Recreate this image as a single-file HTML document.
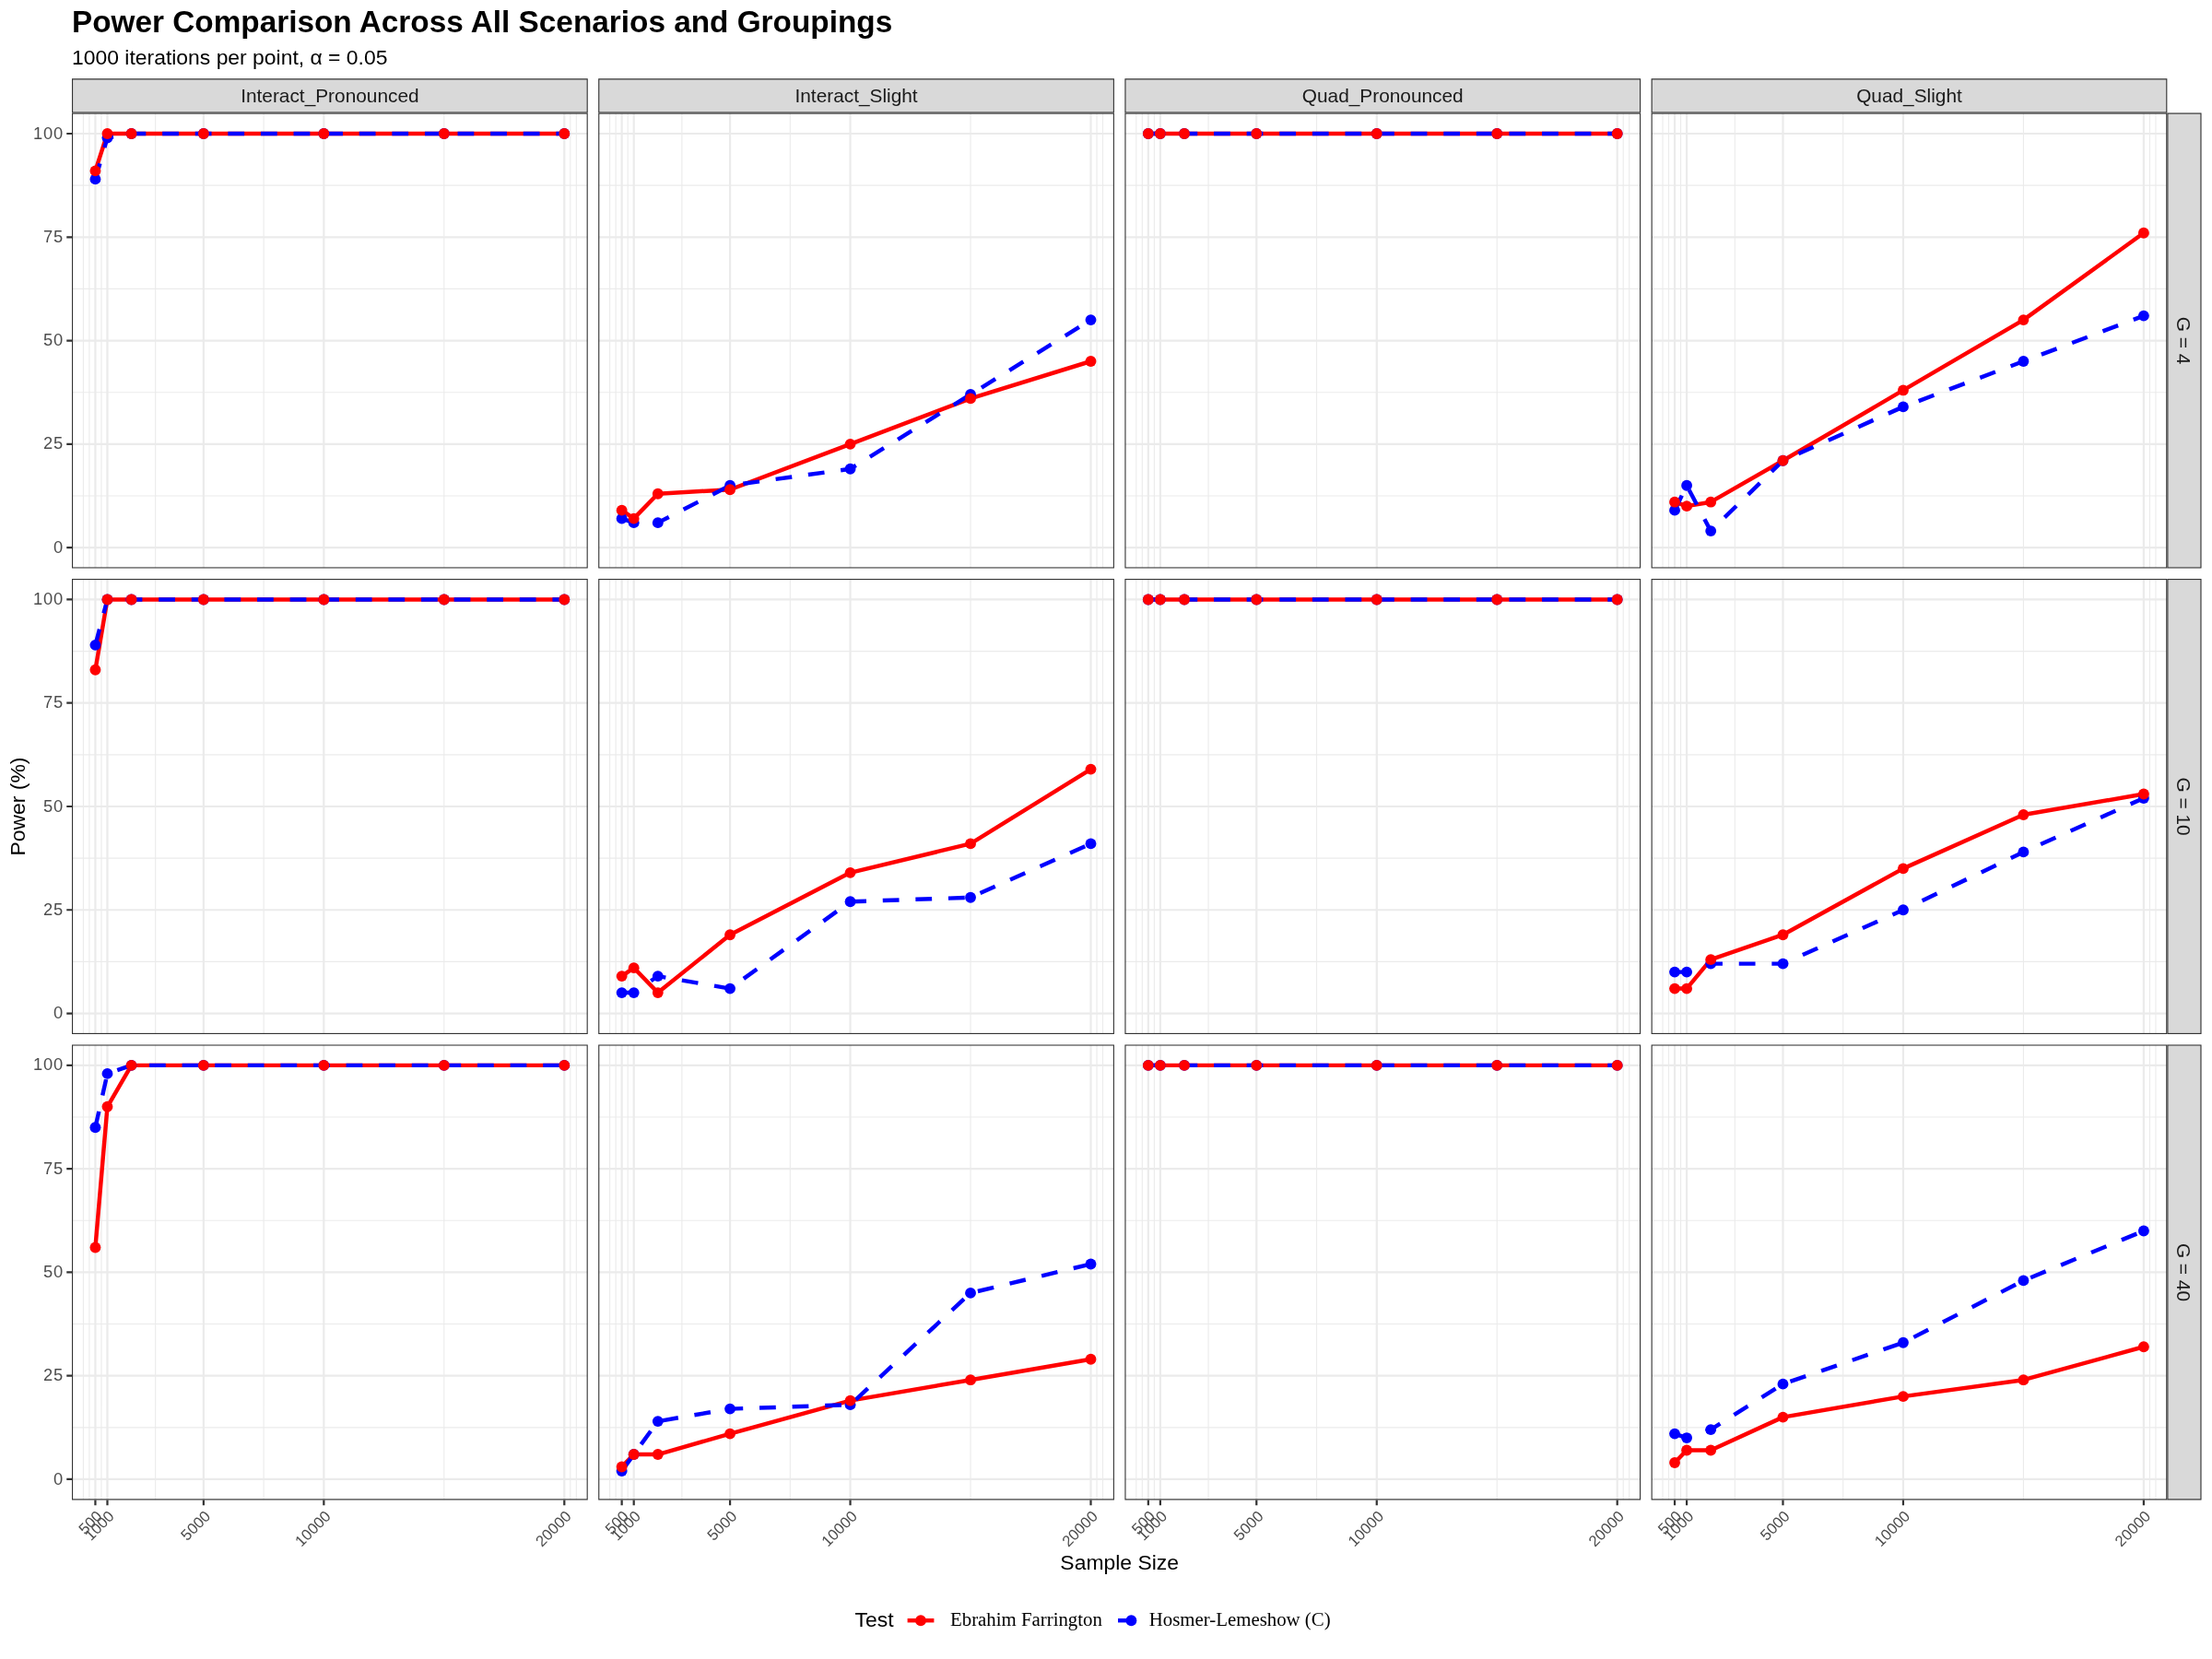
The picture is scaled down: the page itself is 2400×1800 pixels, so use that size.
<!DOCTYPE html>
<html><head><meta charset="utf-8"><title>Power Comparison</title>
<style>html,body{margin:0;padding:0;background:#fff;}svg{display:block;will-change:transform;}text{font-family:"Liberation Sans",sans-serif;}.ser{font-family:"Liberation Serif",serif;}</style>
</head><body>
<svg width="2400" height="1800" viewBox="0 0 2400 1800">
<rect x="0" y="0" width="2400" height="1800" fill="#ffffff"/>
<defs>
<clipPath id="cp00"><rect x="78.00" y="122.56" width="559.74" height="493.98"/></clipPath>
<clipPath id="cp01"><rect x="649.20" y="122.56" width="559.74" height="493.98"/></clipPath>
<clipPath id="cp02"><rect x="1220.40" y="122.56" width="559.74" height="493.98"/></clipPath>
<clipPath id="cp03"><rect x="1791.60" y="122.56" width="559.74" height="493.98"/></clipPath>
<clipPath id="cp10"><rect x="78.00" y="628.00" width="559.74" height="493.98"/></clipPath>
<clipPath id="cp11"><rect x="649.20" y="628.00" width="559.74" height="493.98"/></clipPath>
<clipPath id="cp12"><rect x="1220.40" y="628.00" width="559.74" height="493.98"/></clipPath>
<clipPath id="cp13"><rect x="1791.60" y="628.00" width="559.74" height="493.98"/></clipPath>
<clipPath id="cp20"><rect x="78.00" y="1133.44" width="559.74" height="493.98"/></clipPath>
<clipPath id="cp21"><rect x="649.20" y="1133.44" width="559.74" height="493.98"/></clipPath>
<clipPath id="cp22"><rect x="1220.40" y="1133.44" width="559.74" height="493.98"/></clipPath>
<clipPath id="cp23"><rect x="1791.60" y="1133.44" width="559.74" height="493.98"/></clipPath>
<clipPath id="cs0"><rect x="78.00" y="85.37" width="559.74" height="37.19"/></clipPath>
<clipPath id="cs1"><rect x="649.20" y="85.37" width="559.74" height="37.19"/></clipPath>
<clipPath id="cs2"><rect x="1220.40" y="85.37" width="559.74" height="37.19"/></clipPath>
<clipPath id="cs3"><rect x="1791.60" y="85.37" width="559.74" height="37.19"/></clipPath>
<clipPath id="cr0"><rect x="2351.34" y="122.56" width="37.19" height="493.98"/></clipPath>
<clipPath id="cr1"><rect x="2351.34" y="628.00" width="37.19" height="493.98"/></clipPath>
<clipPath id="cr2"><rect x="2351.34" y="1133.44" width="37.19" height="493.98"/></clipPath>
</defs>
<text x="78" y="34.7" font-size="33.33" font-weight="bold" fill="#000">Power Comparison Across All Scenarios and Groupings</text>
<text x="78" y="69.9" font-size="22.92" fill="#000">1000 iterations per point, α = 0.05</text>
<g clip-path="url(#cp00)">
<path d="M78.00 537.95H637.74M78.00 425.68H637.74M78.00 313.42H637.74M78.00 201.15H637.74M90.40 122.56V616.54M96.92 122.56V616.54M109.97 122.56V616.54M168.68 122.56V616.54M286.11 122.56V616.54M481.82 122.56V616.54M618.82 122.56V616.54M625.34 122.56V616.54" stroke="#EBEBEB" stroke-width="1.11" fill="none"/>
<path d="M78.00 594.09H637.74M78.00 481.82H637.74M78.00 369.55H637.74M78.00 257.28H637.74M78.00 145.01H637.74M103.44 122.56V616.54M116.49 122.56V616.54M220.87 122.56V616.54M351.35 122.56V616.54M612.30 122.56V616.54" stroke="#EBEBEB" stroke-width="2.22" fill="none"/>
<polyline points="103.44,185.43 116.49,145.01 142.59,145.01 220.87,145.01 351.35,145.01 481.82,145.01 612.30,145.01" fill="none" stroke="#FF0000" stroke-width="4.45" stroke-linejoin="round"/>
<polyline points="103.44,194.41 116.49,149.50 142.59,145.01 220.87,145.01 351.35,145.01 481.82,145.01 612.30,145.01" fill="none" stroke="#0000FF" stroke-width="4.45" stroke-linejoin="round" stroke-dasharray="17.8 17.8"/>
<circle cx="103.44" cy="194.41" r="5.93" fill="#0000FF"/>
<circle cx="116.49" cy="149.50" r="5.93" fill="#0000FF"/>
<circle cx="142.59" cy="145.01" r="5.93" fill="#0000FF"/>
<circle cx="220.87" cy="145.01" r="5.93" fill="#0000FF"/>
<circle cx="351.35" cy="145.01" r="5.93" fill="#0000FF"/>
<circle cx="481.82" cy="145.01" r="5.93" fill="#0000FF"/>
<circle cx="612.30" cy="145.01" r="5.93" fill="#0000FF"/>
<circle cx="103.44" cy="185.43" r="5.93" fill="#FF0000"/>
<circle cx="116.49" cy="145.01" r="5.93" fill="#FF0000"/>
<circle cx="142.59" cy="145.01" r="5.93" fill="#FF0000"/>
<circle cx="220.87" cy="145.01" r="5.93" fill="#FF0000"/>
<circle cx="351.35" cy="145.01" r="5.93" fill="#FF0000"/>
<circle cx="481.82" cy="145.01" r="5.93" fill="#FF0000"/>
<circle cx="612.30" cy="145.01" r="5.93" fill="#FF0000"/>
<rect x="78.00" y="122.56" width="559.74" height="493.98" fill="none" stroke="#333333" stroke-width="2.22"/>
</g>
<g clip-path="url(#cp01)">
<path d="M649.20 537.95H1208.94M649.20 425.68H1208.94M649.20 313.42H1208.94M649.20 201.15H1208.94M661.60 122.56V616.54M668.12 122.56V616.54M681.17 122.56V616.54M739.88 122.56V616.54M857.31 122.56V616.54M1053.02 122.56V616.54M1190.02 122.56V616.54M1196.54 122.56V616.54" stroke="#EBEBEB" stroke-width="1.11" fill="none"/>
<path d="M649.20 594.09H1208.94M649.20 481.82H1208.94M649.20 369.55H1208.94M649.20 257.28H1208.94M649.20 145.01H1208.94M674.64 122.56V616.54M687.69 122.56V616.54M792.07 122.56V616.54M922.55 122.56V616.54M1183.50 122.56V616.54" stroke="#EBEBEB" stroke-width="2.22" fill="none"/>
<polyline points="674.64,553.67 687.69,562.65 713.79,535.71 792.07,531.22 922.55,481.82 1053.02,432.42 1183.50,392.00" fill="none" stroke="#FF0000" stroke-width="4.45" stroke-linejoin="round"/>
<polyline points="674.64,562.65 687.69,567.14 713.79,567.14 792.07,526.73 922.55,508.76 1053.02,427.93 1183.50,347.10" fill="none" stroke="#0000FF" stroke-width="4.45" stroke-linejoin="round" stroke-dasharray="17.8 17.8"/>
<circle cx="674.64" cy="562.65" r="5.93" fill="#0000FF"/>
<circle cx="687.69" cy="567.14" r="5.93" fill="#0000FF"/>
<circle cx="713.79" cy="567.14" r="5.93" fill="#0000FF"/>
<circle cx="792.07" cy="526.73" r="5.93" fill="#0000FF"/>
<circle cx="922.55" cy="508.76" r="5.93" fill="#0000FF"/>
<circle cx="1053.02" cy="427.93" r="5.93" fill="#0000FF"/>
<circle cx="1183.50" cy="347.10" r="5.93" fill="#0000FF"/>
<circle cx="674.64" cy="553.67" r="5.93" fill="#FF0000"/>
<circle cx="687.69" cy="562.65" r="5.93" fill="#FF0000"/>
<circle cx="713.79" cy="535.71" r="5.93" fill="#FF0000"/>
<circle cx="792.07" cy="531.22" r="5.93" fill="#FF0000"/>
<circle cx="922.55" cy="481.82" r="5.93" fill="#FF0000"/>
<circle cx="1053.02" cy="432.42" r="5.93" fill="#FF0000"/>
<circle cx="1183.50" cy="392.00" r="5.93" fill="#FF0000"/>
<rect x="649.20" y="122.56" width="559.74" height="493.98" fill="none" stroke="#333333" stroke-width="2.22"/>
</g>
<g clip-path="url(#cp02)">
<path d="M1220.40 537.95H1780.14M1220.40 425.68H1780.14M1220.40 313.42H1780.14M1220.40 201.15H1780.14M1232.80 122.56V616.54M1239.32 122.56V616.54M1252.37 122.56V616.54M1311.08 122.56V616.54M1428.51 122.56V616.54M1624.22 122.56V616.54M1761.22 122.56V616.54M1767.74 122.56V616.54" stroke="#EBEBEB" stroke-width="1.11" fill="none"/>
<path d="M1220.40 594.09H1780.14M1220.40 481.82H1780.14M1220.40 369.55H1780.14M1220.40 257.28H1780.14M1220.40 145.01H1780.14M1245.84 122.56V616.54M1258.89 122.56V616.54M1363.27 122.56V616.54M1493.75 122.56V616.54M1754.70 122.56V616.54" stroke="#EBEBEB" stroke-width="2.22" fill="none"/>
<polyline points="1245.84,145.01 1258.89,145.01 1284.99,145.01 1363.27,145.01 1493.75,145.01 1624.22,145.01 1754.70,145.01" fill="none" stroke="#FF0000" stroke-width="4.45" stroke-linejoin="round"/>
<polyline points="1245.84,145.01 1258.89,145.01 1284.99,145.01 1363.27,145.01 1493.75,145.01 1624.22,145.01 1754.70,145.01" fill="none" stroke="#0000FF" stroke-width="4.45" stroke-linejoin="round" stroke-dasharray="17.8 17.8"/>
<circle cx="1245.84" cy="145.01" r="5.93" fill="#0000FF"/>
<circle cx="1258.89" cy="145.01" r="5.93" fill="#0000FF"/>
<circle cx="1284.99" cy="145.01" r="5.93" fill="#0000FF"/>
<circle cx="1363.27" cy="145.01" r="5.93" fill="#0000FF"/>
<circle cx="1493.75" cy="145.01" r="5.93" fill="#0000FF"/>
<circle cx="1624.22" cy="145.01" r="5.93" fill="#0000FF"/>
<circle cx="1754.70" cy="145.01" r="5.93" fill="#0000FF"/>
<circle cx="1245.84" cy="145.01" r="5.93" fill="#FF0000"/>
<circle cx="1258.89" cy="145.01" r="5.93" fill="#FF0000"/>
<circle cx="1284.99" cy="145.01" r="5.93" fill="#FF0000"/>
<circle cx="1363.27" cy="145.01" r="5.93" fill="#FF0000"/>
<circle cx="1493.75" cy="145.01" r="5.93" fill="#FF0000"/>
<circle cx="1624.22" cy="145.01" r="5.93" fill="#FF0000"/>
<circle cx="1754.70" cy="145.01" r="5.93" fill="#FF0000"/>
<rect x="1220.40" y="122.56" width="559.74" height="493.98" fill="none" stroke="#333333" stroke-width="2.22"/>
</g>
<g clip-path="url(#cp03)">
<path d="M1791.60 537.95H2351.34M1791.60 425.68H2351.34M1791.60 313.42H2351.34M1791.60 201.15H2351.34M1804.00 122.56V616.54M1810.52 122.56V616.54M1823.57 122.56V616.54M1882.28 122.56V616.54M1999.71 122.56V616.54M2195.42 122.56V616.54M2332.42 122.56V616.54M2338.94 122.56V616.54" stroke="#EBEBEB" stroke-width="1.11" fill="none"/>
<path d="M1791.60 594.09H2351.34M1791.60 481.82H2351.34M1791.60 369.55H2351.34M1791.60 257.28H2351.34M1791.60 145.01H2351.34M1817.04 122.56V616.54M1830.09 122.56V616.54M1934.47 122.56V616.54M2064.95 122.56V616.54M2325.90 122.56V616.54" stroke="#EBEBEB" stroke-width="2.22" fill="none"/>
<polyline points="1817.04,544.69 1830.09,549.18 1856.19,544.69 1934.47,499.78 2064.95,423.44 2195.42,347.10 2325.90,252.79" fill="none" stroke="#FF0000" stroke-width="4.45" stroke-linejoin="round"/>
<polyline points="1817.04,553.67 1830.09,526.73 1856.19,576.12 1934.47,499.78 2064.95,441.40 2195.42,392.00 2325.90,342.61" fill="none" stroke="#0000FF" stroke-width="4.45" stroke-linejoin="round" stroke-dasharray="17.8 17.8"/>
<circle cx="1817.04" cy="553.67" r="5.93" fill="#0000FF"/>
<circle cx="1830.09" cy="526.73" r="5.93" fill="#0000FF"/>
<circle cx="1856.19" cy="576.12" r="5.93" fill="#0000FF"/>
<circle cx="1934.47" cy="499.78" r="5.93" fill="#0000FF"/>
<circle cx="2064.95" cy="441.40" r="5.93" fill="#0000FF"/>
<circle cx="2195.42" cy="392.00" r="5.93" fill="#0000FF"/>
<circle cx="2325.90" cy="342.61" r="5.93" fill="#0000FF"/>
<circle cx="1817.04" cy="544.69" r="5.93" fill="#FF0000"/>
<circle cx="1830.09" cy="549.18" r="5.93" fill="#FF0000"/>
<circle cx="1856.19" cy="544.69" r="5.93" fill="#FF0000"/>
<circle cx="1934.47" cy="499.78" r="5.93" fill="#FF0000"/>
<circle cx="2064.95" cy="423.44" r="5.93" fill="#FF0000"/>
<circle cx="2195.42" cy="347.10" r="5.93" fill="#FF0000"/>
<circle cx="2325.90" cy="252.79" r="5.93" fill="#FF0000"/>
<rect x="1791.60" y="122.56" width="559.74" height="493.98" fill="none" stroke="#333333" stroke-width="2.22"/>
</g>
<g clip-path="url(#cp10)">
<path d="M78.00 1043.39H637.74M78.00 931.12H637.74M78.00 818.86H637.74M78.00 706.59H637.74M90.40 628.00V1121.98M96.92 628.00V1121.98M109.97 628.00V1121.98M168.68 628.00V1121.98M286.11 628.00V1121.98M481.82 628.00V1121.98M618.82 628.00V1121.98M625.34 628.00V1121.98" stroke="#EBEBEB" stroke-width="1.11" fill="none"/>
<path d="M78.00 1099.53H637.74M78.00 987.26H637.74M78.00 874.99H637.74M78.00 762.72H637.74M78.00 650.45H637.74M103.44 628.00V1121.98M116.49 628.00V1121.98M220.87 628.00V1121.98M351.35 628.00V1121.98M612.30 628.00V1121.98" stroke="#EBEBEB" stroke-width="2.22" fill="none"/>
<polyline points="103.44,726.80 116.49,650.45 142.59,650.45 220.87,650.45 351.35,650.45 481.82,650.45 612.30,650.45" fill="none" stroke="#FF0000" stroke-width="4.45" stroke-linejoin="round"/>
<polyline points="103.44,699.85 116.49,650.45 142.59,650.45 220.87,650.45 351.35,650.45 481.82,650.45 612.30,650.45" fill="none" stroke="#0000FF" stroke-width="4.45" stroke-linejoin="round" stroke-dasharray="17.8 17.8"/>
<circle cx="103.44" cy="699.85" r="5.93" fill="#0000FF"/>
<circle cx="116.49" cy="650.45" r="5.93" fill="#0000FF"/>
<circle cx="142.59" cy="650.45" r="5.93" fill="#0000FF"/>
<circle cx="220.87" cy="650.45" r="5.93" fill="#0000FF"/>
<circle cx="351.35" cy="650.45" r="5.93" fill="#0000FF"/>
<circle cx="481.82" cy="650.45" r="5.93" fill="#0000FF"/>
<circle cx="612.30" cy="650.45" r="5.93" fill="#0000FF"/>
<circle cx="103.44" cy="726.80" r="5.93" fill="#FF0000"/>
<circle cx="116.49" cy="650.45" r="5.93" fill="#FF0000"/>
<circle cx="142.59" cy="650.45" r="5.93" fill="#FF0000"/>
<circle cx="220.87" cy="650.45" r="5.93" fill="#FF0000"/>
<circle cx="351.35" cy="650.45" r="5.93" fill="#FF0000"/>
<circle cx="481.82" cy="650.45" r="5.93" fill="#FF0000"/>
<circle cx="612.30" cy="650.45" r="5.93" fill="#FF0000"/>
<rect x="78.00" y="628.00" width="559.74" height="493.98" fill="none" stroke="#333333" stroke-width="2.22"/>
</g>
<g clip-path="url(#cp11)">
<path d="M649.20 1043.39H1208.94M649.20 931.12H1208.94M649.20 818.86H1208.94M649.20 706.59H1208.94M661.60 628.00V1121.98M668.12 628.00V1121.98M681.17 628.00V1121.98M739.88 628.00V1121.98M857.31 628.00V1121.98M1053.02 628.00V1121.98M1190.02 628.00V1121.98M1196.54 628.00V1121.98" stroke="#EBEBEB" stroke-width="1.11" fill="none"/>
<path d="M649.20 1099.53H1208.94M649.20 987.26H1208.94M649.20 874.99H1208.94M649.20 762.72H1208.94M649.20 650.45H1208.94M674.64 628.00V1121.98M687.69 628.00V1121.98M792.07 628.00V1121.98M922.55 628.00V1121.98M1183.50 628.00V1121.98" stroke="#EBEBEB" stroke-width="2.22" fill="none"/>
<polyline points="674.64,1059.11 687.69,1050.13 713.79,1077.07 792.07,1014.20 922.55,946.84 1053.02,915.41 1183.50,834.57" fill="none" stroke="#FF0000" stroke-width="4.45" stroke-linejoin="round"/>
<polyline points="674.64,1077.07 687.69,1077.07 713.79,1059.11 792.07,1072.58 922.55,978.28 1053.02,973.79 1183.50,915.41" fill="none" stroke="#0000FF" stroke-width="4.45" stroke-linejoin="round" stroke-dasharray="17.8 17.8"/>
<circle cx="674.64" cy="1077.07" r="5.93" fill="#0000FF"/>
<circle cx="687.69" cy="1077.07" r="5.93" fill="#0000FF"/>
<circle cx="713.79" cy="1059.11" r="5.93" fill="#0000FF"/>
<circle cx="792.07" cy="1072.58" r="5.93" fill="#0000FF"/>
<circle cx="922.55" cy="978.28" r="5.93" fill="#0000FF"/>
<circle cx="1053.02" cy="973.79" r="5.93" fill="#0000FF"/>
<circle cx="1183.50" cy="915.41" r="5.93" fill="#0000FF"/>
<circle cx="674.64" cy="1059.11" r="5.93" fill="#FF0000"/>
<circle cx="687.69" cy="1050.13" r="5.93" fill="#FF0000"/>
<circle cx="713.79" cy="1077.07" r="5.93" fill="#FF0000"/>
<circle cx="792.07" cy="1014.20" r="5.93" fill="#FF0000"/>
<circle cx="922.55" cy="946.84" r="5.93" fill="#FF0000"/>
<circle cx="1053.02" cy="915.41" r="5.93" fill="#FF0000"/>
<circle cx="1183.50" cy="834.57" r="5.93" fill="#FF0000"/>
<rect x="649.20" y="628.00" width="559.74" height="493.98" fill="none" stroke="#333333" stroke-width="2.22"/>
</g>
<g clip-path="url(#cp12)">
<path d="M1220.40 1043.39H1780.14M1220.40 931.12H1780.14M1220.40 818.86H1780.14M1220.40 706.59H1780.14M1232.80 628.00V1121.98M1239.32 628.00V1121.98M1252.37 628.00V1121.98M1311.08 628.00V1121.98M1428.51 628.00V1121.98M1624.22 628.00V1121.98M1761.22 628.00V1121.98M1767.74 628.00V1121.98" stroke="#EBEBEB" stroke-width="1.11" fill="none"/>
<path d="M1220.40 1099.53H1780.14M1220.40 987.26H1780.14M1220.40 874.99H1780.14M1220.40 762.72H1780.14M1220.40 650.45H1780.14M1245.84 628.00V1121.98M1258.89 628.00V1121.98M1363.27 628.00V1121.98M1493.75 628.00V1121.98M1754.70 628.00V1121.98" stroke="#EBEBEB" stroke-width="2.22" fill="none"/>
<polyline points="1245.84,650.45 1258.89,650.45 1284.99,650.45 1363.27,650.45 1493.75,650.45 1624.22,650.45 1754.70,650.45" fill="none" stroke="#FF0000" stroke-width="4.45" stroke-linejoin="round"/>
<polyline points="1245.84,650.45 1258.89,650.45 1284.99,650.45 1363.27,650.45 1493.75,650.45 1624.22,650.45 1754.70,650.45" fill="none" stroke="#0000FF" stroke-width="4.45" stroke-linejoin="round" stroke-dasharray="17.8 17.8"/>
<circle cx="1245.84" cy="650.45" r="5.93" fill="#0000FF"/>
<circle cx="1258.89" cy="650.45" r="5.93" fill="#0000FF"/>
<circle cx="1284.99" cy="650.45" r="5.93" fill="#0000FF"/>
<circle cx="1363.27" cy="650.45" r="5.93" fill="#0000FF"/>
<circle cx="1493.75" cy="650.45" r="5.93" fill="#0000FF"/>
<circle cx="1624.22" cy="650.45" r="5.93" fill="#0000FF"/>
<circle cx="1754.70" cy="650.45" r="5.93" fill="#0000FF"/>
<circle cx="1245.84" cy="650.45" r="5.93" fill="#FF0000"/>
<circle cx="1258.89" cy="650.45" r="5.93" fill="#FF0000"/>
<circle cx="1284.99" cy="650.45" r="5.93" fill="#FF0000"/>
<circle cx="1363.27" cy="650.45" r="5.93" fill="#FF0000"/>
<circle cx="1493.75" cy="650.45" r="5.93" fill="#FF0000"/>
<circle cx="1624.22" cy="650.45" r="5.93" fill="#FF0000"/>
<circle cx="1754.70" cy="650.45" r="5.93" fill="#FF0000"/>
<rect x="1220.40" y="628.00" width="559.74" height="493.98" fill="none" stroke="#333333" stroke-width="2.22"/>
</g>
<g clip-path="url(#cp13)">
<path d="M1791.60 1043.39H2351.34M1791.60 931.12H2351.34M1791.60 818.86H2351.34M1791.60 706.59H2351.34M1804.00 628.00V1121.98M1810.52 628.00V1121.98M1823.57 628.00V1121.98M1882.28 628.00V1121.98M1999.71 628.00V1121.98M2195.42 628.00V1121.98M2332.42 628.00V1121.98M2338.94 628.00V1121.98" stroke="#EBEBEB" stroke-width="1.11" fill="none"/>
<path d="M1791.60 1099.53H2351.34M1791.60 987.26H2351.34M1791.60 874.99H2351.34M1791.60 762.72H2351.34M1791.60 650.45H2351.34M1817.04 628.00V1121.98M1830.09 628.00V1121.98M1934.47 628.00V1121.98M2064.95 628.00V1121.98M2325.90 628.00V1121.98" stroke="#EBEBEB" stroke-width="2.22" fill="none"/>
<polyline points="1817.04,1072.58 1830.09,1072.58 1856.19,1041.15 1934.47,1014.20 2064.95,942.35 2195.42,883.97 2325.90,861.52" fill="none" stroke="#FF0000" stroke-width="4.45" stroke-linejoin="round"/>
<polyline points="1817.04,1054.62 1830.09,1054.62 1856.19,1045.64 1934.47,1045.64 2064.95,987.26 2195.42,924.39 2325.90,866.01" fill="none" stroke="#0000FF" stroke-width="4.45" stroke-linejoin="round" stroke-dasharray="17.8 17.8"/>
<circle cx="1817.04" cy="1054.62" r="5.93" fill="#0000FF"/>
<circle cx="1830.09" cy="1054.62" r="5.93" fill="#0000FF"/>
<circle cx="1856.19" cy="1045.64" r="5.93" fill="#0000FF"/>
<circle cx="1934.47" cy="1045.64" r="5.93" fill="#0000FF"/>
<circle cx="2064.95" cy="987.26" r="5.93" fill="#0000FF"/>
<circle cx="2195.42" cy="924.39" r="5.93" fill="#0000FF"/>
<circle cx="2325.90" cy="866.01" r="5.93" fill="#0000FF"/>
<circle cx="1817.04" cy="1072.58" r="5.93" fill="#FF0000"/>
<circle cx="1830.09" cy="1072.58" r="5.93" fill="#FF0000"/>
<circle cx="1856.19" cy="1041.15" r="5.93" fill="#FF0000"/>
<circle cx="1934.47" cy="1014.20" r="5.93" fill="#FF0000"/>
<circle cx="2064.95" cy="942.35" r="5.93" fill="#FF0000"/>
<circle cx="2195.42" cy="883.97" r="5.93" fill="#FF0000"/>
<circle cx="2325.90" cy="861.52" r="5.93" fill="#FF0000"/>
<rect x="1791.60" y="628.00" width="559.74" height="493.98" fill="none" stroke="#333333" stroke-width="2.22"/>
</g>
<g clip-path="url(#cp20)">
<path d="M78.00 1548.83H637.74M78.00 1436.56H637.74M78.00 1324.30H637.74M78.00 1212.03H637.74M90.40 1133.44V1627.42M96.92 1133.44V1627.42M109.97 1133.44V1627.42M168.68 1133.44V1627.42M286.11 1133.44V1627.42M481.82 1133.44V1627.42M618.82 1133.44V1627.42M625.34 1133.44V1627.42" stroke="#EBEBEB" stroke-width="1.11" fill="none"/>
<path d="M78.00 1604.97H637.74M78.00 1492.70H637.74M78.00 1380.43H637.74M78.00 1268.16H637.74M78.00 1155.89H637.74M103.44 1133.44V1627.42M116.49 1133.44V1627.42M220.87 1133.44V1627.42M351.35 1133.44V1627.42M612.30 1133.44V1627.42" stroke="#EBEBEB" stroke-width="2.22" fill="none"/>
<polyline points="103.44,1353.49 116.49,1200.80 142.59,1155.89 220.87,1155.89 351.35,1155.89 481.82,1155.89 612.30,1155.89" fill="none" stroke="#FF0000" stroke-width="4.45" stroke-linejoin="round"/>
<polyline points="103.44,1223.25 116.49,1164.88 142.59,1155.89 220.87,1155.89 351.35,1155.89 481.82,1155.89 612.30,1155.89" fill="none" stroke="#0000FF" stroke-width="4.45" stroke-linejoin="round" stroke-dasharray="17.8 17.8"/>
<circle cx="103.44" cy="1223.25" r="5.93" fill="#0000FF"/>
<circle cx="116.49" cy="1164.88" r="5.93" fill="#0000FF"/>
<circle cx="142.59" cy="1155.89" r="5.93" fill="#0000FF"/>
<circle cx="220.87" cy="1155.89" r="5.93" fill="#0000FF"/>
<circle cx="351.35" cy="1155.89" r="5.93" fill="#0000FF"/>
<circle cx="481.82" cy="1155.89" r="5.93" fill="#0000FF"/>
<circle cx="612.30" cy="1155.89" r="5.93" fill="#0000FF"/>
<circle cx="103.44" cy="1353.49" r="5.93" fill="#FF0000"/>
<circle cx="116.49" cy="1200.80" r="5.93" fill="#FF0000"/>
<circle cx="142.59" cy="1155.89" r="5.93" fill="#FF0000"/>
<circle cx="220.87" cy="1155.89" r="5.93" fill="#FF0000"/>
<circle cx="351.35" cy="1155.89" r="5.93" fill="#FF0000"/>
<circle cx="481.82" cy="1155.89" r="5.93" fill="#FF0000"/>
<circle cx="612.30" cy="1155.89" r="5.93" fill="#FF0000"/>
<rect x="78.00" y="1133.44" width="559.74" height="493.98" fill="none" stroke="#333333" stroke-width="2.22"/>
</g>
<g clip-path="url(#cp21)">
<path d="M649.20 1548.83H1208.94M649.20 1436.56H1208.94M649.20 1324.30H1208.94M649.20 1212.03H1208.94M661.60 1133.44V1627.42M668.12 1133.44V1627.42M681.17 1133.44V1627.42M739.88 1133.44V1627.42M857.31 1133.44V1627.42M1053.02 1133.44V1627.42M1190.02 1133.44V1627.42M1196.54 1133.44V1627.42" stroke="#EBEBEB" stroke-width="1.11" fill="none"/>
<path d="M649.20 1604.97H1208.94M649.20 1492.70H1208.94M649.20 1380.43H1208.94M649.20 1268.16H1208.94M649.20 1155.89H1208.94M674.64 1133.44V1627.42M687.69 1133.44V1627.42M792.07 1133.44V1627.42M922.55 1133.44V1627.42M1183.50 1133.44V1627.42" stroke="#EBEBEB" stroke-width="2.22" fill="none"/>
<polyline points="674.64,1591.49 687.69,1578.02 713.79,1578.02 792.07,1555.57 922.55,1519.64 1053.02,1497.19 1183.50,1474.74" fill="none" stroke="#FF0000" stroke-width="4.45" stroke-linejoin="round"/>
<polyline points="674.64,1595.98 687.69,1578.02 713.79,1542.10 792.07,1528.62 922.55,1524.13 1053.02,1402.88 1183.50,1371.45" fill="none" stroke="#0000FF" stroke-width="4.45" stroke-linejoin="round" stroke-dasharray="17.8 17.8"/>
<circle cx="674.64" cy="1595.98" r="5.93" fill="#0000FF"/>
<circle cx="687.69" cy="1578.02" r="5.93" fill="#0000FF"/>
<circle cx="713.79" cy="1542.10" r="5.93" fill="#0000FF"/>
<circle cx="792.07" cy="1528.62" r="5.93" fill="#0000FF"/>
<circle cx="922.55" cy="1524.13" r="5.93" fill="#0000FF"/>
<circle cx="1053.02" cy="1402.88" r="5.93" fill="#0000FF"/>
<circle cx="1183.50" cy="1371.45" r="5.93" fill="#0000FF"/>
<circle cx="674.64" cy="1591.49" r="5.93" fill="#FF0000"/>
<circle cx="687.69" cy="1578.02" r="5.93" fill="#FF0000"/>
<circle cx="713.79" cy="1578.02" r="5.93" fill="#FF0000"/>
<circle cx="792.07" cy="1555.57" r="5.93" fill="#FF0000"/>
<circle cx="922.55" cy="1519.64" r="5.93" fill="#FF0000"/>
<circle cx="1053.02" cy="1497.19" r="5.93" fill="#FF0000"/>
<circle cx="1183.50" cy="1474.74" r="5.93" fill="#FF0000"/>
<rect x="649.20" y="1133.44" width="559.74" height="493.98" fill="none" stroke="#333333" stroke-width="2.22"/>
</g>
<g clip-path="url(#cp22)">
<path d="M1220.40 1548.83H1780.14M1220.40 1436.56H1780.14M1220.40 1324.30H1780.14M1220.40 1212.03H1780.14M1232.80 1133.44V1627.42M1239.32 1133.44V1627.42M1252.37 1133.44V1627.42M1311.08 1133.44V1627.42M1428.51 1133.44V1627.42M1624.22 1133.44V1627.42M1761.22 1133.44V1627.42M1767.74 1133.44V1627.42" stroke="#EBEBEB" stroke-width="1.11" fill="none"/>
<path d="M1220.40 1604.97H1780.14M1220.40 1492.70H1780.14M1220.40 1380.43H1780.14M1220.40 1268.16H1780.14M1220.40 1155.89H1780.14M1245.84 1133.44V1627.42M1258.89 1133.44V1627.42M1363.27 1133.44V1627.42M1493.75 1133.44V1627.42M1754.70 1133.44V1627.42" stroke="#EBEBEB" stroke-width="2.22" fill="none"/>
<polyline points="1245.84,1155.89 1258.89,1155.89 1284.99,1155.89 1363.27,1155.89 1493.75,1155.89 1624.22,1155.89 1754.70,1155.89" fill="none" stroke="#FF0000" stroke-width="4.45" stroke-linejoin="round"/>
<polyline points="1245.84,1155.89 1258.89,1155.89 1284.99,1155.89 1363.27,1155.89 1493.75,1155.89 1624.22,1155.89 1754.70,1155.89" fill="none" stroke="#0000FF" stroke-width="4.45" stroke-linejoin="round" stroke-dasharray="17.8 17.8"/>
<circle cx="1245.84" cy="1155.89" r="5.93" fill="#0000FF"/>
<circle cx="1258.89" cy="1155.89" r="5.93" fill="#0000FF"/>
<circle cx="1284.99" cy="1155.89" r="5.93" fill="#0000FF"/>
<circle cx="1363.27" cy="1155.89" r="5.93" fill="#0000FF"/>
<circle cx="1493.75" cy="1155.89" r="5.93" fill="#0000FF"/>
<circle cx="1624.22" cy="1155.89" r="5.93" fill="#0000FF"/>
<circle cx="1754.70" cy="1155.89" r="5.93" fill="#0000FF"/>
<circle cx="1245.84" cy="1155.89" r="5.93" fill="#FF0000"/>
<circle cx="1258.89" cy="1155.89" r="5.93" fill="#FF0000"/>
<circle cx="1284.99" cy="1155.89" r="5.93" fill="#FF0000"/>
<circle cx="1363.27" cy="1155.89" r="5.93" fill="#FF0000"/>
<circle cx="1493.75" cy="1155.89" r="5.93" fill="#FF0000"/>
<circle cx="1624.22" cy="1155.89" r="5.93" fill="#FF0000"/>
<circle cx="1754.70" cy="1155.89" r="5.93" fill="#FF0000"/>
<rect x="1220.40" y="1133.44" width="559.74" height="493.98" fill="none" stroke="#333333" stroke-width="2.22"/>
</g>
<g clip-path="url(#cp23)">
<path d="M1791.60 1548.83H2351.34M1791.60 1436.56H2351.34M1791.60 1324.30H2351.34M1791.60 1212.03H2351.34M1804.00 1133.44V1627.42M1810.52 1133.44V1627.42M1823.57 1133.44V1627.42M1882.28 1133.44V1627.42M1999.71 1133.44V1627.42M2195.42 1133.44V1627.42M2332.42 1133.44V1627.42M2338.94 1133.44V1627.42" stroke="#EBEBEB" stroke-width="1.11" fill="none"/>
<path d="M1791.60 1604.97H2351.34M1791.60 1492.70H2351.34M1791.60 1380.43H2351.34M1791.60 1268.16H2351.34M1791.60 1155.89H2351.34M1817.04 1133.44V1627.42M1830.09 1133.44V1627.42M1934.47 1133.44V1627.42M2064.95 1133.44V1627.42M2325.90 1133.44V1627.42" stroke="#EBEBEB" stroke-width="2.22" fill="none"/>
<polyline points="1817.04,1587.00 1830.09,1573.53 1856.19,1573.53 1934.47,1537.61 2064.95,1515.15 2195.42,1497.19 2325.90,1461.26" fill="none" stroke="#FF0000" stroke-width="4.45" stroke-linejoin="round"/>
<polyline points="1817.04,1555.57 1830.09,1560.06 1856.19,1551.08 1934.47,1501.68 2064.95,1456.77 2195.42,1389.41 2325.90,1335.52" fill="none" stroke="#0000FF" stroke-width="4.45" stroke-linejoin="round" stroke-dasharray="17.8 17.8"/>
<circle cx="1817.04" cy="1555.57" r="5.93" fill="#0000FF"/>
<circle cx="1830.09" cy="1560.06" r="5.93" fill="#0000FF"/>
<circle cx="1856.19" cy="1551.08" r="5.93" fill="#0000FF"/>
<circle cx="1934.47" cy="1501.68" r="5.93" fill="#0000FF"/>
<circle cx="2064.95" cy="1456.77" r="5.93" fill="#0000FF"/>
<circle cx="2195.42" cy="1389.41" r="5.93" fill="#0000FF"/>
<circle cx="2325.90" cy="1335.52" r="5.93" fill="#0000FF"/>
<circle cx="1817.04" cy="1587.00" r="5.93" fill="#FF0000"/>
<circle cx="1830.09" cy="1573.53" r="5.93" fill="#FF0000"/>
<circle cx="1856.19" cy="1573.53" r="5.93" fill="#FF0000"/>
<circle cx="1934.47" cy="1537.61" r="5.93" fill="#FF0000"/>
<circle cx="2064.95" cy="1515.15" r="5.93" fill="#FF0000"/>
<circle cx="2195.42" cy="1497.19" r="5.93" fill="#FF0000"/>
<circle cx="2325.90" cy="1461.26" r="5.93" fill="#FF0000"/>
<rect x="1791.60" y="1133.44" width="559.74" height="493.98" fill="none" stroke="#333333" stroke-width="2.22"/>
</g>
<g clip-path="url(#cs0)"><rect x="78.00" y="85.37" width="559.74" height="37.19" fill="#D9D9D9" stroke="#333333" stroke-width="2.22"/></g>
<text x="357.87" y="110.9" font-size="20.83" fill="#1A1A1A" text-anchor="middle">Interact_Pronounced</text>
<g clip-path="url(#cs1)"><rect x="649.20" y="85.37" width="559.74" height="37.19" fill="#D9D9D9" stroke="#333333" stroke-width="2.22"/></g>
<text x="929.07" y="110.9" font-size="20.83" fill="#1A1A1A" text-anchor="middle">Interact_Slight</text>
<g clip-path="url(#cs2)"><rect x="1220.40" y="85.37" width="559.74" height="37.19" fill="#D9D9D9" stroke="#333333" stroke-width="2.22"/></g>
<text x="1500.27" y="110.9" font-size="20.83" fill="#1A1A1A" text-anchor="middle">Quad_Pronounced</text>
<g clip-path="url(#cs3)"><rect x="1791.60" y="85.37" width="559.74" height="37.19" fill="#D9D9D9" stroke="#333333" stroke-width="2.22"/></g>
<text x="2071.47" y="110.9" font-size="20.83" fill="#1A1A1A" text-anchor="middle">Quad_Slight</text>
<g clip-path="url(#cr0)"><rect x="2351.34" y="122.56" width="37.19" height="493.98" fill="#D9D9D9" stroke="#333333" stroke-width="2.22"/></g>
<text transform="translate(2361.60,369.55) rotate(90)" font-size="20.83" fill="#1A1A1A" text-anchor="middle">G = 4</text>
<g clip-path="url(#cr1)"><rect x="2351.34" y="628.00" width="37.19" height="493.98" fill="#D9D9D9" stroke="#333333" stroke-width="2.22"/></g>
<text transform="translate(2361.60,874.99) rotate(90)" font-size="20.83" fill="#1A1A1A" text-anchor="middle">G = 10</text>
<g clip-path="url(#cr2)"><rect x="2351.34" y="1133.44" width="37.19" height="493.98" fill="#D9D9D9" stroke="#333333" stroke-width="2.22"/></g>
<text transform="translate(2361.60,1380.43) rotate(90)" font-size="20.83" fill="#1A1A1A" text-anchor="middle">G = 40</text>
<text x="69.0" y="600" font-size="18.33" letter-spacing="0.8" fill="#4D4D4D" text-anchor="end">0</text>
<text x="69.0" y="487" font-size="18.33" letter-spacing="0.8" fill="#4D4D4D" text-anchor="end">25</text>
<text x="69.0" y="375" font-size="18.33" letter-spacing="0.8" fill="#4D4D4D" text-anchor="end">50</text>
<text x="69.0" y="263" font-size="18.33" letter-spacing="0.8" fill="#4D4D4D" text-anchor="end">75</text>
<text x="69.0" y="151" font-size="18.33" letter-spacing="0.8" fill="#4D4D4D" text-anchor="end">100</text>
<path d="M72.27 594.09H78.00M72.27 481.82H78.00M72.27 369.55H78.00M72.27 257.28H78.00M72.27 145.01H78.00" stroke="#333333" stroke-width="2.22" fill="none"/>
<text x="69.0" y="1105" font-size="18.33" letter-spacing="0.8" fill="#4D4D4D" text-anchor="end">0</text>
<text x="69.0" y="993" font-size="18.33" letter-spacing="0.8" fill="#4D4D4D" text-anchor="end">25</text>
<text x="69.0" y="881" font-size="18.33" letter-spacing="0.8" fill="#4D4D4D" text-anchor="end">50</text>
<text x="69.0" y="768" font-size="18.33" letter-spacing="0.8" fill="#4D4D4D" text-anchor="end">75</text>
<text x="69.0" y="656" font-size="18.33" letter-spacing="0.8" fill="#4D4D4D" text-anchor="end">100</text>
<path d="M72.27 1099.53H78.00M72.27 987.26H78.00M72.27 874.99H78.00M72.27 762.72H78.00M72.27 650.45H78.00" stroke="#333333" stroke-width="2.22" fill="none"/>
<text x="69.0" y="1611" font-size="18.33" letter-spacing="0.8" fill="#4D4D4D" text-anchor="end">0</text>
<text x="69.0" y="1498" font-size="18.33" letter-spacing="0.8" fill="#4D4D4D" text-anchor="end">25</text>
<text x="69.0" y="1386" font-size="18.33" letter-spacing="0.8" fill="#4D4D4D" text-anchor="end">50</text>
<text x="69.0" y="1274" font-size="18.33" letter-spacing="0.8" fill="#4D4D4D" text-anchor="end">75</text>
<text x="69.0" y="1161" font-size="18.33" letter-spacing="0.8" fill="#4D4D4D" text-anchor="end">100</text>
<path d="M72.27 1604.97H78.00M72.27 1492.70H78.00M72.27 1380.43H78.00M72.27 1268.16H78.00M72.27 1155.89H78.00" stroke="#333333" stroke-width="2.22" fill="none"/>
<text transform="translate(103.44,1637.73) rotate(-45)" y="11.93" font-size="16.67" fill="#4D4D4D" text-anchor="end">500</text>
<text transform="translate(116.49,1637.73) rotate(-45)" y="11.93" font-size="16.67" fill="#4D4D4D" text-anchor="end">1000</text>
<text transform="translate(220.87,1637.73) rotate(-45)" y="11.93" font-size="16.67" fill="#4D4D4D" text-anchor="end">5000</text>
<text transform="translate(351.35,1637.73) rotate(-45)" y="11.93" font-size="16.67" fill="#4D4D4D" text-anchor="end">10000</text>
<text transform="translate(612.30,1637.73) rotate(-45)" y="11.93" font-size="16.67" fill="#4D4D4D" text-anchor="end">20000</text>
<path d="M103.44 1627.42V1633.15M116.49 1627.42V1633.15M220.87 1627.42V1633.15M351.35 1627.42V1633.15M612.30 1627.42V1633.15" stroke="#333333" stroke-width="2.22" fill="none"/>
<text transform="translate(674.64,1637.73) rotate(-45)" y="11.93" font-size="16.67" fill="#4D4D4D" text-anchor="end">500</text>
<text transform="translate(687.69,1637.73) rotate(-45)" y="11.93" font-size="16.67" fill="#4D4D4D" text-anchor="end">1000</text>
<text transform="translate(792.07,1637.73) rotate(-45)" y="11.93" font-size="16.67" fill="#4D4D4D" text-anchor="end">5000</text>
<text transform="translate(922.55,1637.73) rotate(-45)" y="11.93" font-size="16.67" fill="#4D4D4D" text-anchor="end">10000</text>
<text transform="translate(1183.50,1637.73) rotate(-45)" y="11.93" font-size="16.67" fill="#4D4D4D" text-anchor="end">20000</text>
<path d="M674.64 1627.42V1633.15M687.69 1627.42V1633.15M792.07 1627.42V1633.15M922.55 1627.42V1633.15M1183.50 1627.42V1633.15" stroke="#333333" stroke-width="2.22" fill="none"/>
<text transform="translate(1245.84,1637.73) rotate(-45)" y="11.93" font-size="16.67" fill="#4D4D4D" text-anchor="end">500</text>
<text transform="translate(1258.89,1637.73) rotate(-45)" y="11.93" font-size="16.67" fill="#4D4D4D" text-anchor="end">1000</text>
<text transform="translate(1363.27,1637.73) rotate(-45)" y="11.93" font-size="16.67" fill="#4D4D4D" text-anchor="end">5000</text>
<text transform="translate(1493.75,1637.73) rotate(-45)" y="11.93" font-size="16.67" fill="#4D4D4D" text-anchor="end">10000</text>
<text transform="translate(1754.70,1637.73) rotate(-45)" y="11.93" font-size="16.67" fill="#4D4D4D" text-anchor="end">20000</text>
<path d="M1245.84 1627.42V1633.15M1258.89 1627.42V1633.15M1363.27 1627.42V1633.15M1493.75 1627.42V1633.15M1754.70 1627.42V1633.15" stroke="#333333" stroke-width="2.22" fill="none"/>
<text transform="translate(1817.04,1637.73) rotate(-45)" y="11.93" font-size="16.67" fill="#4D4D4D" text-anchor="end">500</text>
<text transform="translate(1830.09,1637.73) rotate(-45)" y="11.93" font-size="16.67" fill="#4D4D4D" text-anchor="end">1000</text>
<text transform="translate(1934.47,1637.73) rotate(-45)" y="11.93" font-size="16.67" fill="#4D4D4D" text-anchor="end">5000</text>
<text transform="translate(2064.95,1637.73) rotate(-45)" y="11.93" font-size="16.67" fill="#4D4D4D" text-anchor="end">10000</text>
<text transform="translate(2325.90,1637.73) rotate(-45)" y="11.93" font-size="16.67" fill="#4D4D4D" text-anchor="end">20000</text>
<path d="M1817.04 1627.42V1633.15M1830.09 1627.42V1633.15M1934.47 1627.42V1633.15M2064.95 1627.42V1633.15M2325.90 1627.42V1633.15" stroke="#333333" stroke-width="2.22" fill="none"/>
<text x="1214.67" y="1702.9" font-size="22.92" fill="#000" text-anchor="middle">Sample Size</text>
<text transform="translate(26.9,874.99) rotate(-90)" font-size="22.92" fill="#000" text-anchor="middle">Power (%)</text>
<text x="927.5" y="1765.2" font-size="22.92" fill="#000">Test</text>
<path d="M984.60 1758.2H1013.40" stroke="#FF0000" stroke-width="4.45"/>
<circle cx="999.00" cy="1758.2" r="5.93" fill="#FF0000"/>
<text class="ser" x="1031.0" y="1764.4" font-size="20.83" fill="#000">Ebrahim Farrington</text>
<path d="M1213.00 1758.2H1241.80" stroke="#0000FF" stroke-width="4.45" stroke-dasharray="17.8 17.8"/>
<circle cx="1227.40" cy="1758.2" r="5.93" fill="#0000FF"/>
<text class="ser" x="1246.8" y="1764.4" font-size="20.83" fill="#000">Hosmer-Lemeshow (C)</text>
</svg></body></html>
